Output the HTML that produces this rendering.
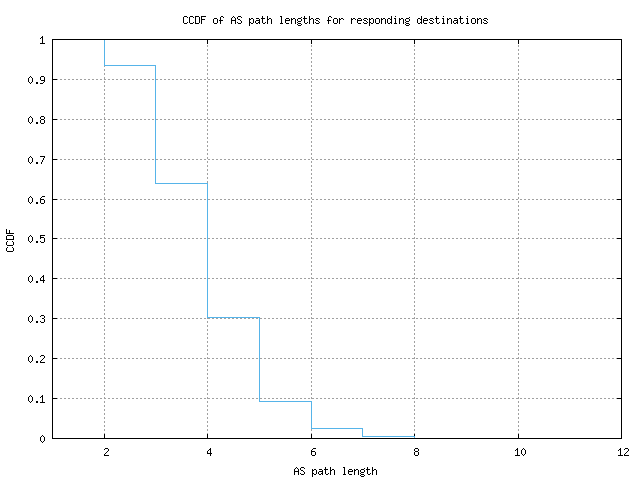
<!DOCTYPE html>
<html><head><meta charset="utf-8"><title>CCDF of AS path lengths</title>
<style>html,body{margin:0;padding:0;background:#fff;width:640px;height:480px;overflow:hidden;font-family:"Liberation Mono",monospace}</style>
</head><body><svg width="640" height="480" viewBox="0 0 640 480" shape-rendering="crispEdges" style="display:block"><path d="M52 398.5H622M52 358.5H622M52 318.5H622M52 278.5H622M52 238.5H622M52 199.5H622M52 159.5H622M52 119.5H622M52 79.5H622M104.5 439V39M207.5 439V39M311.5 439V39M414.5 439V39M518.5 439V39" stroke="#a0a0a0" stroke-width="1" stroke-dasharray="2 2" fill="none"/><path d="M52 398h5v1h-5zM617 398h5v1h-5zM52 358h5v1h-5zM617 358h5v1h-5zM52 318h5v1h-5zM617 318h5v1h-5zM52 278h5v1h-5zM617 278h5v1h-5zM52 238h5v1h-5zM617 238h5v1h-5zM52 199h5v1h-5zM617 199h5v1h-5zM52 159h5v1h-5zM617 159h5v1h-5zM52 119h5v1h-5zM617 119h5v1h-5zM52 79h5v1h-5zM617 79h5v1h-5zM104 434h1v5h-1zM104 39h1v5h-1zM207 434h1v5h-1zM207 39h1v5h-1zM311 434h1v5h-1zM311 39h1v5h-1zM414 434h1v5h-1zM414 39h1v5h-1zM518 434h1v5h-1zM518 39h1v5h-1z" fill="#000"/><path d="M104.5 39.5 L104.5 65.5 L155.5 65.5 L155.5 183.5 L207.5 183.5 L207.5 317.5 L259.5 317.5 L259.5 401.5 L311.5 401.5 L311.5 428.5 L362.5 428.5 L362.5 436.5 L414.5 436.5 L414.5 438.5" stroke="#56b4e9" stroke-width="1" fill="none" stroke-linecap="square"/><path d="M52 39h570v1h-570zM52 438h570v1h-570zM52 39h1v400h-1zM621 39h1v400h-1z" fill="#000"/><path d="M184 16h3v1h-3zM190 16h3v1h-3zM195 16h4v1h-4zM201 16h5v1h-5zM221 16h2v1h-2zM233 16h1v1h-1zM238 16h3v1h-3zM262 16h1v1h-1zM267 16h1v1h-1zM280 16h2v1h-2zM304 16h1v1h-1zM309 16h1v1h-1zM329 16h2v1h-2zM391 16h1v1h-1zM395 16h1v1h-1zM421 16h1v1h-1zM436 16h1v1h-1zM443 16h1v1h-1zM460 16h1v1h-1zM467 16h1v1h-1zM183 17h1v1h-1zM187 17h1v1h-1zM189 17h1v1h-1zM193 17h1v1h-1zM195 17h1v1h-1zM199 17h1v1h-1zM201 17h1v1h-1zM220 17h1v1h-1zM223 17h1v1h-1zM232 17h1v1h-1zM234 17h1v1h-1zM237 17h1v1h-1zM241 17h1v1h-1zM262 17h1v1h-1zM267 17h1v1h-1zM281 17h1v1h-1zM301 17h1v1h-1zM304 17h1v1h-1zM309 17h1v1h-1zM328 17h1v1h-1zM331 17h1v1h-1zM391 17h1v1h-1zM409 17h1v1h-1zM421 17h1v1h-1zM436 17h1v1h-1zM460 17h1v1h-1zM183 18h1v1h-1zM189 18h1v1h-1zM195 18h1v1h-1zM199 18h1v1h-1zM201 18h1v1h-1zM214 18h3v1h-3zM220 18h1v1h-1zM231 18h1v1h-1zM235 18h1v1h-1zM237 18h1v1h-1zM249 18h1v1h-1zM251 18h2v1h-2zM256 18h3v1h-3zM261 18h4v1h-4zM267 18h1v1h-1zM269 18h2v1h-2zM281 18h1v1h-1zM286 18h3v1h-3zM291 18h1v1h-1zM293 18h2v1h-2zM298 18h3v1h-3zM303 18h4v1h-4zM309 18h1v1h-1zM311 18h2v1h-2zM316 18h3v1h-3zM328 18h1v1h-1zM334 18h3v1h-3zM339 18h1v1h-1zM341 18h2v1h-2zM351 18h1v1h-1zM353 18h2v1h-2zM358 18h3v1h-3zM364 18h3v1h-3zM369 18h1v1h-1zM371 18h2v1h-2zM376 18h3v1h-3zM381 18h1v1h-1zM383 18h2v1h-2zM388 18h2v1h-2zM391 18h1v1h-1zM394 18h2v1h-2zM399 18h1v1h-1zM401 18h2v1h-2zM406 18h3v1h-3zM418 18h2v1h-2zM421 18h1v1h-1zM424 18h3v1h-3zM430 18h3v1h-3zM435 18h4v1h-4zM442 18h2v1h-2zM447 18h1v1h-1zM449 18h2v1h-2zM454 18h3v1h-3zM459 18h4v1h-4zM466 18h2v1h-2zM472 18h3v1h-3zM477 18h1v1h-1zM479 18h2v1h-2zM484 18h3v1h-3zM183 19h1v1h-1zM189 19h1v1h-1zM195 19h1v1h-1zM199 19h1v1h-1zM201 19h4v1h-4zM213 19h1v1h-1zM217 19h1v1h-1zM220 19h1v1h-1zM231 19h1v1h-1zM235 19h1v1h-1zM238 19h2v1h-2zM249 19h2v1h-2zM253 19h1v1h-1zM259 19h1v1h-1zM262 19h1v1h-1zM267 19h2v1h-2zM271 19h1v1h-1zM281 19h1v1h-1zM285 19h1v1h-1zM289 19h1v1h-1zM291 19h2v1h-2zM295 19h1v1h-1zM297 19h1v1h-1zM301 19h1v1h-1zM304 19h1v1h-1zM309 19h2v1h-2zM313 19h1v1h-1zM315 19h1v1h-1zM319 19h1v1h-1zM328 19h1v1h-1zM333 19h1v1h-1zM337 19h1v1h-1zM339 19h2v1h-2zM343 19h1v1h-1zM351 19h2v1h-2zM355 19h1v1h-1zM357 19h1v1h-1zM361 19h1v1h-1zM363 19h1v1h-1zM367 19h1v1h-1zM369 19h2v1h-2zM373 19h1v1h-1zM375 19h1v1h-1zM379 19h1v1h-1zM381 19h2v1h-2zM385 19h1v1h-1zM387 19h1v1h-1zM390 19h2v1h-2zM395 19h1v1h-1zM399 19h2v1h-2zM403 19h1v1h-1zM405 19h1v1h-1zM409 19h1v1h-1zM417 19h1v1h-1zM420 19h2v1h-2zM423 19h1v1h-1zM427 19h1v1h-1zM429 19h1v1h-1zM433 19h1v1h-1zM436 19h1v1h-1zM443 19h1v1h-1zM447 19h2v1h-2zM451 19h1v1h-1zM457 19h1v1h-1zM460 19h1v1h-1zM467 19h1v1h-1zM471 19h1v1h-1zM475 19h1v1h-1zM477 19h2v1h-2zM481 19h1v1h-1zM483 19h1v1h-1zM487 19h1v1h-1zM183 20h1v1h-1zM189 20h1v1h-1zM195 20h1v1h-1zM199 20h1v1h-1zM201 20h1v1h-1zM213 20h1v1h-1zM217 20h1v1h-1zM219 20h4v1h-4zM231 20h5v1h-5zM240 20h1v1h-1zM249 20h1v1h-1zM253 20h1v1h-1zM256 20h4v1h-4zM262 20h1v1h-1zM267 20h1v1h-1zM271 20h1v1h-1zM281 20h1v1h-1zM285 20h5v1h-5zM291 20h1v1h-1zM295 20h1v1h-1zM297 20h1v1h-1zM301 20h1v1h-1zM304 20h1v1h-1zM309 20h1v1h-1zM313 20h1v1h-1zM316 20h2v1h-2zM327 20h4v1h-4zM333 20h1v1h-1zM337 20h1v1h-1zM339 20h1v1h-1zM351 20h1v1h-1zM357 20h5v1h-5zM364 20h2v1h-2zM369 20h1v1h-1zM373 20h1v1h-1zM375 20h1v1h-1zM379 20h1v1h-1zM381 20h1v1h-1zM385 20h1v1h-1zM387 20h1v1h-1zM391 20h1v1h-1zM395 20h1v1h-1zM399 20h1v1h-1zM403 20h1v1h-1zM405 20h1v1h-1zM409 20h1v1h-1zM417 20h1v1h-1zM421 20h1v1h-1zM423 20h5v1h-5zM430 20h2v1h-2zM436 20h1v1h-1zM443 20h1v1h-1zM447 20h1v1h-1zM451 20h1v1h-1zM454 20h4v1h-4zM460 20h1v1h-1zM467 20h1v1h-1zM471 20h1v1h-1zM475 20h1v1h-1zM477 20h1v1h-1zM481 20h1v1h-1zM484 20h2v1h-2zM183 21h1v1h-1zM189 21h1v1h-1zM195 21h1v1h-1zM199 21h1v1h-1zM201 21h1v1h-1zM213 21h1v1h-1zM217 21h1v1h-1zM220 21h1v1h-1zM231 21h1v1h-1zM235 21h1v1h-1zM241 21h1v1h-1zM249 21h1v1h-1zM253 21h1v1h-1zM255 21h1v1h-1zM259 21h1v1h-1zM262 21h1v1h-1zM267 21h1v1h-1zM271 21h1v1h-1zM281 21h1v1h-1zM285 21h1v1h-1zM291 21h1v1h-1zM295 21h1v1h-1zM298 21h3v1h-3zM304 21h1v1h-1zM309 21h1v1h-1zM313 21h1v1h-1zM318 21h1v1h-1zM328 21h1v1h-1zM333 21h1v1h-1zM337 21h1v1h-1zM339 21h1v1h-1zM351 21h1v1h-1zM357 21h1v1h-1zM366 21h1v1h-1zM369 21h1v1h-1zM373 21h1v1h-1zM375 21h1v1h-1zM379 21h1v1h-1zM381 21h1v1h-1zM385 21h1v1h-1zM387 21h1v1h-1zM391 21h1v1h-1zM395 21h1v1h-1zM399 21h1v1h-1zM403 21h1v1h-1zM406 21h3v1h-3zM417 21h1v1h-1zM421 21h1v1h-1zM423 21h1v1h-1zM432 21h1v1h-1zM436 21h1v1h-1zM443 21h1v1h-1zM447 21h1v1h-1zM451 21h1v1h-1zM453 21h1v1h-1zM457 21h1v1h-1zM460 21h1v1h-1zM467 21h1v1h-1zM471 21h1v1h-1zM475 21h1v1h-1zM477 21h1v1h-1zM481 21h1v1h-1zM486 21h1v1h-1zM183 22h1v1h-1zM187 22h1v1h-1zM189 22h1v1h-1zM193 22h1v1h-1zM195 22h1v1h-1zM199 22h1v1h-1zM201 22h1v1h-1zM213 22h1v1h-1zM217 22h1v1h-1zM220 22h1v1h-1zM231 22h1v1h-1zM235 22h1v1h-1zM237 22h1v1h-1zM241 22h1v1h-1zM249 22h2v1h-2zM253 22h1v1h-1zM255 22h1v1h-1zM258 22h2v1h-2zM262 22h1v1h-1zM265 22h1v1h-1zM267 22h1v1h-1zM271 22h1v1h-1zM281 22h1v1h-1zM285 22h1v1h-1zM291 22h1v1h-1zM295 22h1v1h-1zM297 22h1v1h-1zM304 22h1v1h-1zM307 22h1v1h-1zM309 22h1v1h-1zM313 22h1v1h-1zM315 22h1v1h-1zM319 22h1v1h-1zM328 22h1v1h-1zM333 22h1v1h-1zM337 22h1v1h-1zM339 22h1v1h-1zM351 22h1v1h-1zM357 22h1v1h-1zM363 22h1v1h-1zM367 22h1v1h-1zM369 22h2v1h-2zM373 22h1v1h-1zM375 22h1v1h-1zM379 22h1v1h-1zM381 22h1v1h-1zM385 22h1v1h-1zM387 22h1v1h-1zM390 22h2v1h-2zM395 22h1v1h-1zM399 22h1v1h-1zM403 22h1v1h-1zM405 22h1v1h-1zM417 22h1v1h-1zM420 22h2v1h-2zM423 22h1v1h-1zM429 22h1v1h-1zM433 22h1v1h-1zM436 22h1v1h-1zM439 22h1v1h-1zM443 22h1v1h-1zM447 22h1v1h-1zM451 22h1v1h-1zM453 22h1v1h-1zM456 22h2v1h-2zM460 22h1v1h-1zM463 22h1v1h-1zM467 22h1v1h-1zM471 22h1v1h-1zM475 22h1v1h-1zM477 22h1v1h-1zM481 22h1v1h-1zM483 22h1v1h-1zM487 22h1v1h-1zM184 23h3v1h-3zM190 23h3v1h-3zM195 23h4v1h-4zM201 23h1v1h-1zM214 23h3v1h-3zM220 23h1v1h-1zM231 23h1v1h-1zM235 23h1v1h-1zM238 23h3v1h-3zM249 23h1v1h-1zM251 23h2v1h-2zM256 23h2v1h-2zM259 23h1v1h-1zM263 23h2v1h-2zM267 23h1v1h-1zM271 23h1v1h-1zM280 23h3v1h-3zM286 23h3v1h-3zM291 23h1v1h-1zM295 23h1v1h-1zM298 23h3v1h-3zM305 23h2v1h-2zM309 23h1v1h-1zM313 23h1v1h-1zM316 23h3v1h-3zM328 23h1v1h-1zM334 23h3v1h-3zM339 23h1v1h-1zM351 23h1v1h-1zM358 23h3v1h-3zM364 23h3v1h-3zM369 23h1v1h-1zM371 23h2v1h-2zM376 23h3v1h-3zM381 23h1v1h-1zM385 23h1v1h-1zM388 23h2v1h-2zM391 23h1v1h-1zM394 23h3v1h-3zM399 23h1v1h-1zM403 23h1v1h-1zM406 23h3v1h-3zM418 23h2v1h-2zM421 23h1v1h-1zM424 23h3v1h-3zM430 23h3v1h-3zM437 23h2v1h-2zM442 23h3v1h-3zM447 23h1v1h-1zM451 23h1v1h-1zM454 23h2v1h-2zM457 23h1v1h-1zM461 23h2v1h-2zM466 23h3v1h-3zM472 23h3v1h-3zM477 23h1v1h-1zM481 23h1v1h-1zM484 23h3v1h-3zM249 24h1v1h-1zM297 24h1v1h-1zM301 24h1v1h-1zM369 24h1v1h-1zM405 24h1v1h-1zM409 24h1v1h-1zM249 25h1v1h-1zM298 25h3v1h-3zM369 25h1v1h-1zM406 25h3v1h-3zM42 36h1v1h-1zM41 37h2v1h-2zM40 38h1v1h-1zM42 38h1v1h-1zM42 39h1v1h-1zM42 40h1v1h-1zM42 41h1v1h-1zM42 42h1v1h-1zM40 43h5v1h-5zM30 76h1v1h-1zM41 76h3v1h-3zM29 77h1v1h-1zM31 77h1v1h-1zM40 77h1v1h-1zM44 77h1v1h-1zM28 78h1v1h-1zM32 78h1v1h-1zM40 78h1v1h-1zM44 78h1v1h-1zM28 79h1v1h-1zM32 79h1v1h-1zM40 79h1v1h-1zM44 79h1v1h-1zM28 80h1v1h-1zM32 80h1v1h-1zM41 80h4v1h-4zM28 81h1v1h-1zM32 81h1v1h-1zM44 81h1v1h-1zM29 82h1v1h-1zM31 82h1v1h-1zM36 82h2v1h-2zM43 82h1v1h-1zM30 83h1v1h-1zM36 83h2v1h-2zM40 83h3v1h-3zM30 116h1v1h-1zM41 116h3v1h-3zM29 117h1v1h-1zM31 117h1v1h-1zM40 117h1v1h-1zM44 117h1v1h-1zM28 118h1v1h-1zM32 118h1v1h-1zM40 118h1v1h-1zM44 118h1v1h-1zM28 119h1v1h-1zM32 119h1v1h-1zM41 119h3v1h-3zM28 120h1v1h-1zM32 120h1v1h-1zM40 120h1v1h-1zM44 120h1v1h-1zM28 121h1v1h-1zM32 121h1v1h-1zM40 121h1v1h-1zM44 121h1v1h-1zM29 122h1v1h-1zM31 122h1v1h-1zM36 122h2v1h-2zM40 122h1v1h-1zM44 122h1v1h-1zM30 123h1v1h-1zM36 123h2v1h-2zM41 123h3v1h-3zM30 156h1v1h-1zM40 156h5v1h-5zM29 157h1v1h-1zM31 157h1v1h-1zM44 157h1v1h-1zM28 158h1v1h-1zM32 158h1v1h-1zM43 158h1v1h-1zM28 159h1v1h-1zM32 159h1v1h-1zM43 159h1v1h-1zM28 160h1v1h-1zM32 160h1v1h-1zM42 160h1v1h-1zM28 161h1v1h-1zM32 161h1v1h-1zM42 161h1v1h-1zM29 162h1v1h-1zM31 162h1v1h-1zM36 162h2v1h-2zM41 162h1v1h-1zM30 163h1v1h-1zM36 163h2v1h-2zM41 163h1v1h-1zM30 196h1v1h-1zM42 196h3v1h-3zM29 197h1v1h-1zM31 197h1v1h-1zM41 197h1v1h-1zM28 198h1v1h-1zM32 198h1v1h-1zM40 198h1v1h-1zM28 199h1v1h-1zM32 199h1v1h-1zM40 199h4v1h-4zM28 200h1v1h-1zM32 200h1v1h-1zM40 200h1v1h-1zM44 200h1v1h-1zM28 201h1v1h-1zM32 201h1v1h-1zM40 201h1v1h-1zM44 201h1v1h-1zM29 202h1v1h-1zM31 202h1v1h-1zM36 202h2v1h-2zM40 202h1v1h-1zM44 202h1v1h-1zM30 203h1v1h-1zM36 203h2v1h-2zM41 203h3v1h-3zM6 229h1v1h-1zM6 230h1v1h-1zM9 230h1v1h-1zM6 231h1v1h-1zM9 231h1v1h-1zM6 232h1v1h-1zM9 232h1v1h-1zM6 233h8v1h-8zM7 235h6v1h-6zM30 235h1v1h-1zM40 235h5v1h-5zM6 236h1v1h-1zM13 236h1v1h-1zM29 236h1v1h-1zM31 236h1v1h-1zM40 236h1v1h-1zM6 237h1v1h-1zM13 237h1v1h-1zM28 237h1v1h-1zM32 237h1v1h-1zM40 237h4v1h-4zM6 238h1v1h-1zM13 238h1v1h-1zM28 238h1v1h-1zM32 238h1v1h-1zM40 238h1v1h-1zM44 238h1v1h-1zM6 239h8v1h-8zM28 239h1v1h-1zM32 239h1v1h-1zM44 239h1v1h-1zM28 240h1v1h-1zM32 240h1v1h-1zM44 240h1v1h-1zM7 241h1v1h-1zM12 241h1v1h-1zM29 241h1v1h-1zM31 241h1v1h-1zM36 241h2v1h-2zM40 241h1v1h-1zM44 241h1v1h-1zM6 242h1v1h-1zM13 242h1v1h-1zM30 242h1v1h-1zM36 242h2v1h-2zM41 242h3v1h-3zM6 243h1v1h-1zM13 243h1v1h-1zM6 244h1v1h-1zM13 244h1v1h-1zM7 245h6v1h-6zM7 247h1v1h-1zM12 247h1v1h-1zM6 248h1v1h-1zM13 248h1v1h-1zM6 249h1v1h-1zM13 249h1v1h-1zM6 250h1v1h-1zM13 250h1v1h-1zM7 251h6v1h-6zM30 275h1v1h-1zM43 275h1v1h-1zM29 276h1v1h-1zM31 276h1v1h-1zM42 276h2v1h-2zM28 277h1v1h-1zM32 277h1v1h-1zM41 277h1v1h-1zM43 277h1v1h-1zM28 278h1v1h-1zM32 278h1v1h-1zM40 278h1v1h-1zM43 278h1v1h-1zM28 279h1v1h-1zM32 279h1v1h-1zM40 279h1v1h-1zM43 279h1v1h-1zM28 280h1v1h-1zM32 280h1v1h-1zM40 280h5v1h-5zM29 281h1v1h-1zM31 281h1v1h-1zM36 281h2v1h-2zM43 281h1v1h-1zM30 282h1v1h-1zM36 282h2v1h-2zM43 282h1v1h-1zM30 315h1v1h-1zM41 315h3v1h-3zM29 316h1v1h-1zM31 316h1v1h-1zM40 316h1v1h-1zM44 316h1v1h-1zM28 317h1v1h-1zM32 317h1v1h-1zM44 317h1v1h-1zM28 318h1v1h-1zM32 318h1v1h-1zM42 318h2v1h-2zM28 319h1v1h-1zM32 319h1v1h-1zM44 319h1v1h-1zM28 320h1v1h-1zM32 320h1v1h-1zM44 320h1v1h-1zM29 321h1v1h-1zM31 321h1v1h-1zM36 321h2v1h-2zM40 321h1v1h-1zM44 321h1v1h-1zM30 322h1v1h-1zM36 322h2v1h-2zM41 322h3v1h-3zM30 355h1v1h-1zM41 355h3v1h-3zM29 356h1v1h-1zM31 356h1v1h-1zM40 356h1v1h-1zM44 356h1v1h-1zM28 357h1v1h-1zM32 357h1v1h-1zM44 357h1v1h-1zM28 358h1v1h-1zM32 358h1v1h-1zM43 358h1v1h-1zM28 359h1v1h-1zM32 359h1v1h-1zM42 359h1v1h-1zM28 360h1v1h-1zM32 360h1v1h-1zM41 360h1v1h-1zM29 361h1v1h-1zM31 361h1v1h-1zM36 361h2v1h-2zM40 361h1v1h-1zM30 362h1v1h-1zM36 362h2v1h-2zM40 362h5v1h-5zM30 395h1v1h-1zM42 395h1v1h-1zM29 396h1v1h-1zM31 396h1v1h-1zM41 396h2v1h-2zM28 397h1v1h-1zM32 397h1v1h-1zM40 397h1v1h-1zM42 397h1v1h-1zM28 398h1v1h-1zM32 398h1v1h-1zM42 398h1v1h-1zM28 399h1v1h-1zM32 399h1v1h-1zM42 399h1v1h-1zM28 400h1v1h-1zM32 400h1v1h-1zM42 400h1v1h-1zM29 401h1v1h-1zM31 401h1v1h-1zM36 401h2v1h-2zM42 401h1v1h-1zM30 402h1v1h-1zM36 402h2v1h-2zM40 402h5v1h-5zM42 435h1v1h-1zM41 436h1v1h-1zM43 436h1v1h-1zM40 437h1v1h-1zM44 437h1v1h-1zM40 438h1v1h-1zM44 438h1v1h-1zM40 439h1v1h-1zM44 439h1v1h-1zM40 440h1v1h-1zM44 440h1v1h-1zM41 441h1v1h-1zM43 441h1v1h-1zM42 442h1v1h-1zM105 448h3v1h-3zM210 448h1v1h-1zM313 448h3v1h-3zM415 448h3v1h-3zM517 448h1v1h-1zM523 448h1v1h-1zM620 448h1v1h-1zM625 448h3v1h-3zM104 449h1v1h-1zM108 449h1v1h-1zM209 449h2v1h-2zM312 449h1v1h-1zM414 449h1v1h-1zM418 449h1v1h-1zM516 449h2v1h-2zM522 449h1v1h-1zM524 449h1v1h-1zM619 449h2v1h-2zM624 449h1v1h-1zM628 449h1v1h-1zM108 450h1v1h-1zM208 450h1v1h-1zM210 450h1v1h-1zM311 450h1v1h-1zM414 450h1v1h-1zM418 450h1v1h-1zM515 450h1v1h-1zM517 450h1v1h-1zM521 450h1v1h-1zM525 450h1v1h-1zM618 450h1v1h-1zM620 450h1v1h-1zM628 450h1v1h-1zM107 451h1v1h-1zM207 451h1v1h-1zM210 451h1v1h-1zM311 451h4v1h-4zM415 451h3v1h-3zM517 451h1v1h-1zM521 451h1v1h-1zM525 451h1v1h-1zM620 451h1v1h-1zM627 451h1v1h-1zM106 452h1v1h-1zM207 452h1v1h-1zM210 452h1v1h-1zM311 452h1v1h-1zM315 452h1v1h-1zM414 452h1v1h-1zM418 452h1v1h-1zM517 452h1v1h-1zM521 452h1v1h-1zM525 452h1v1h-1zM620 452h1v1h-1zM626 452h1v1h-1zM105 453h1v1h-1zM207 453h5v1h-5zM311 453h1v1h-1zM315 453h1v1h-1zM414 453h1v1h-1zM418 453h1v1h-1zM517 453h1v1h-1zM521 453h1v1h-1zM525 453h1v1h-1zM620 453h1v1h-1zM625 453h1v1h-1zM104 454h1v1h-1zM210 454h1v1h-1zM311 454h1v1h-1zM315 454h1v1h-1zM414 454h1v1h-1zM418 454h1v1h-1zM517 454h1v1h-1zM522 454h1v1h-1zM524 454h1v1h-1zM620 454h1v1h-1zM624 454h1v1h-1zM104 455h5v1h-5zM210 455h1v1h-1zM312 455h3v1h-3zM415 455h3v1h-3zM515 455h5v1h-5zM523 455h1v1h-1zM618 455h5v1h-5zM624 455h5v1h-5zM296 467h1v1h-1zM301 467h3v1h-3zM325 467h1v1h-1zM330 467h1v1h-1zM343 467h2v1h-2zM367 467h1v1h-1zM372 467h1v1h-1zM295 468h1v1h-1zM297 468h1v1h-1zM300 468h1v1h-1zM304 468h1v1h-1zM325 468h1v1h-1zM330 468h1v1h-1zM344 468h1v1h-1zM364 468h1v1h-1zM367 468h1v1h-1zM372 468h1v1h-1zM294 469h1v1h-1zM298 469h1v1h-1zM300 469h1v1h-1zM312 469h1v1h-1zM314 469h2v1h-2zM319 469h3v1h-3zM324 469h4v1h-4zM330 469h1v1h-1zM332 469h2v1h-2zM344 469h1v1h-1zM349 469h3v1h-3zM354 469h1v1h-1zM356 469h2v1h-2zM361 469h3v1h-3zM366 469h4v1h-4zM372 469h1v1h-1zM374 469h2v1h-2zM294 470h1v1h-1zM298 470h1v1h-1zM301 470h2v1h-2zM312 470h2v1h-2zM316 470h1v1h-1zM322 470h1v1h-1zM325 470h1v1h-1zM330 470h2v1h-2zM334 470h1v1h-1zM344 470h1v1h-1zM348 470h1v1h-1zM352 470h1v1h-1zM354 470h2v1h-2zM358 470h1v1h-1zM360 470h1v1h-1zM364 470h1v1h-1zM367 470h1v1h-1zM372 470h2v1h-2zM376 470h1v1h-1zM294 471h5v1h-5zM303 471h1v1h-1zM312 471h1v1h-1zM316 471h1v1h-1zM319 471h4v1h-4zM325 471h1v1h-1zM330 471h1v1h-1zM334 471h1v1h-1zM344 471h1v1h-1zM348 471h5v1h-5zM354 471h1v1h-1zM358 471h1v1h-1zM360 471h1v1h-1zM364 471h1v1h-1zM367 471h1v1h-1zM372 471h1v1h-1zM376 471h1v1h-1zM294 472h1v1h-1zM298 472h1v1h-1zM304 472h1v1h-1zM312 472h1v1h-1zM316 472h1v1h-1zM318 472h1v1h-1zM322 472h1v1h-1zM325 472h1v1h-1zM330 472h1v1h-1zM334 472h1v1h-1zM344 472h1v1h-1zM348 472h1v1h-1zM354 472h1v1h-1zM358 472h1v1h-1zM361 472h3v1h-3zM367 472h1v1h-1zM372 472h1v1h-1zM376 472h1v1h-1zM294 473h1v1h-1zM298 473h1v1h-1zM300 473h1v1h-1zM304 473h1v1h-1zM312 473h2v1h-2zM316 473h1v1h-1zM318 473h1v1h-1zM321 473h2v1h-2zM325 473h1v1h-1zM328 473h1v1h-1zM330 473h1v1h-1zM334 473h1v1h-1zM344 473h1v1h-1zM348 473h1v1h-1zM354 473h1v1h-1zM358 473h1v1h-1zM360 473h1v1h-1zM367 473h1v1h-1zM370 473h1v1h-1zM372 473h1v1h-1zM376 473h1v1h-1zM294 474h1v1h-1zM298 474h1v1h-1zM301 474h3v1h-3zM312 474h1v1h-1zM314 474h2v1h-2zM319 474h2v1h-2zM322 474h1v1h-1zM326 474h2v1h-2zM330 474h1v1h-1zM334 474h1v1h-1zM343 474h3v1h-3zM349 474h3v1h-3zM354 474h1v1h-1zM358 474h1v1h-1zM361 474h3v1h-3zM368 474h2v1h-2zM372 474h1v1h-1zM376 474h1v1h-1zM312 475h1v1h-1zM360 475h1v1h-1zM364 475h1v1h-1zM312 476h1v1h-1zM361 476h3v1h-3z" fill="#000"/></svg></body></html>
